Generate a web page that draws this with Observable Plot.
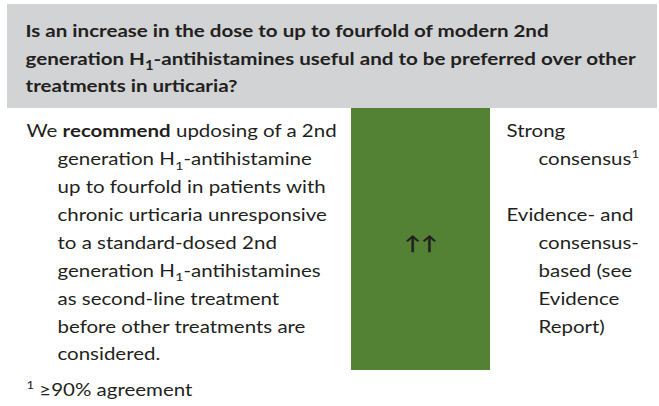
<!DOCTYPE html>
<html><head><meta charset="utf-8">
<script src="https://cdn.jsdelivr.net/npm/d3@7"></script>
<script src="https://cdn.jsdelivr.net/npm/@observablehq/plot@0.6"></script>
<style>
html,body{margin:0;padding:0;background:#fff;}
svg{display:block}
</style></head><body>
<div id="chart"></div>
<script>
// ---- content ----
const titleLines = [
  "Is an increase in the dose to up to fourfold of modern 2nd",
  "generation H_1-antihistamines useful and to be preferred over other",
  "treatments in urticaria?"
];
const recommendationLines = [
  "We **recommend** updosing of a 2nd",
  "generation H_1-antihistamine",
  "up to fourfold in patients with",
  "chronic urticaria unresponsive",
  "to a standard-dosed 2nd",
  "generation H_1-antihistamines",
  "as second-line treatment",
  "before other treatments are",
  "considered."
];
const strengthSymbols = ["↑↑"];
const strengthRows = [4];
const basisGroups = [
  ["Strong", "consensus^1"],
  ["Evidence- and", "consensus-", "based (see", "Evidence", "Report)"]
];
const footnotes = ["^1 ≥90% agreement"];

const headerColor = "#d1d3d4";
const strengthColor = "#548235";
const textColor = "#231f20";

// ---- layout (kept apart from data) ----
const W = 659, H = 406;
const L = {
  headerLeft: 7, headerRight: 657, headerTop: 4, headerBottom: 108,
  titleX: 25, titleBase: 36.7, titleStep: 27.5, titleSize: 17.5,
  bodyBase: 136.7, bodyStep: 27.9, bodySize: 16.8,
  recX: 26, indentX: 57,
  cellLeft: 351, cellRight: 490, cellBottom: 370,
  basisX: 506, basisIndentX: 538,
  footBase: 395,
  stretchBody: 1.22, stretchTitle: 1.175
};

const titleRows = titleLines.map((text, i) => ({text, x: L.titleX, y: L.titleBase + i * L.titleStep}));
const recRows = recommendationLines.map((text, i) => ({text, x: i === 0 ? L.recX : L.indentX, y: L.bodyBase + i * L.bodyStep}));
const basisRows = [];
{
  let row = 0;
  basisGroups.forEach(g => {
    g.forEach((text, j) => basisRows.push({text, x: j === 0 ? L.basisX : L.basisIndentX, y: L.bodyBase + row++ * L.bodyStep}));
    row++;
  });
}
const symbolRows = strengthSymbols.map((text, i) => ({text, x: (L.cellLeft + L.cellRight) / 2, y: L.bodyBase + strengthRows[i] * L.bodyStep + 1}));
const footRows = footnotes.map((text, i) => ({text, x: L.recX, y: L.footBase + i * L.bodyStep}));
const header = [{x1: L.headerLeft, x2: L.headerRight, y1: L.headerTop, y2: L.headerBottom}];
const cell = [{x1: L.cellLeft, x2: L.cellRight, y1: L.headerBottom, y2: L.cellBottom}];

const txt = (data, opts) => Plot.text(data, {x: "x", y: "y", text: "text", textAnchor: "start", lineAnchor: "bottom", fill: textColor, ...opts});

const plot = Plot.plot({
  width: W, height: H, margin: 0,
  x: {domain: [0, W], range: [0, W], axis: null},
  y: {domain: [0, H], range: [0, H], axis: null},
  style: {fontFamily: "Lato, 'Noto Sans', sans-serif", background: "white", color: textColor},
  marks: [
    Plot.rect(header, {x1: "x1", x2: "x2", y1: "y1", y2: "y2", fill: headerColor}),
    Plot.rect(cell, {x1: "x1", x2: "x2", y1: "y1", y2: "y2", fill: strengthColor}),
    txt(titleRows, {fontSize: L.titleSize, fontWeight: "bold"}),
    txt(recRows, {fontSize: L.bodySize}),
    txt(basisRows, {fontSize: L.bodySize}),
    txt(symbolRows, {fontSize: 19, fontWeight: "bold", textAnchor: "middle"}),
    txt(footRows, {fontSize: L.bodySize})
  ]
});
document.getElementById("chart").appendChild(plot);

// rich text: **bold**, _1 subscript, ^1 superscript; plus horizontal stretch of the glyphs
const NS = "http://www.w3.org/2000/svg";
plot.querySelectorAll("text").forEach(t => {
  const cs = getComputedStyle(t);
  const bold = parseInt(cs.fontWeight) >= 600;
  const tr = t.getAttribute("transform") || "";
  t.setAttribute("transform", tr + ` scale(${bold ? L.stretchTitle : L.stretchBody},1)`);
  const s = t.textContent;
  if (!/(\*\*|_\d|\^\d)/.test(s)) return;
  const fs = parseFloat(cs.fontSize);
  t.textContent = "";
  const parts = s.split(/(\*\*[^*]+\*\*|_\d|\^\d)/).filter(p => p !== "");
  let pending = 0;
  for (const p of parts) {
    const ts = document.createElementNS(NS, "tspan");
    if (pending) { ts.setAttribute("dy", -pending); pending = 0; }
    if (p.startsWith("**")) {
      ts.textContent = p.slice(2, -2);
      ts.setAttribute("font-weight", "bold");
    } else if (p[0] === "_") {
      ts.textContent = p.slice(1);
      ts.setAttribute("font-size", fs * 0.72);
      const sh = fs * 0.28;
      ts.setAttribute("dy", sh); pending = sh;
    } else if (p[0] === "^") {
      ts.textContent = p.slice(1);
      ts.setAttribute("font-size", fs * 0.64);
      const sh = -fs * 0.4;
      ts.setAttribute("dy", sh); pending = sh;
    } else {
      ts.textContent = p;
    }
    t.appendChild(ts);
  }
});
</script>
</body></html>
